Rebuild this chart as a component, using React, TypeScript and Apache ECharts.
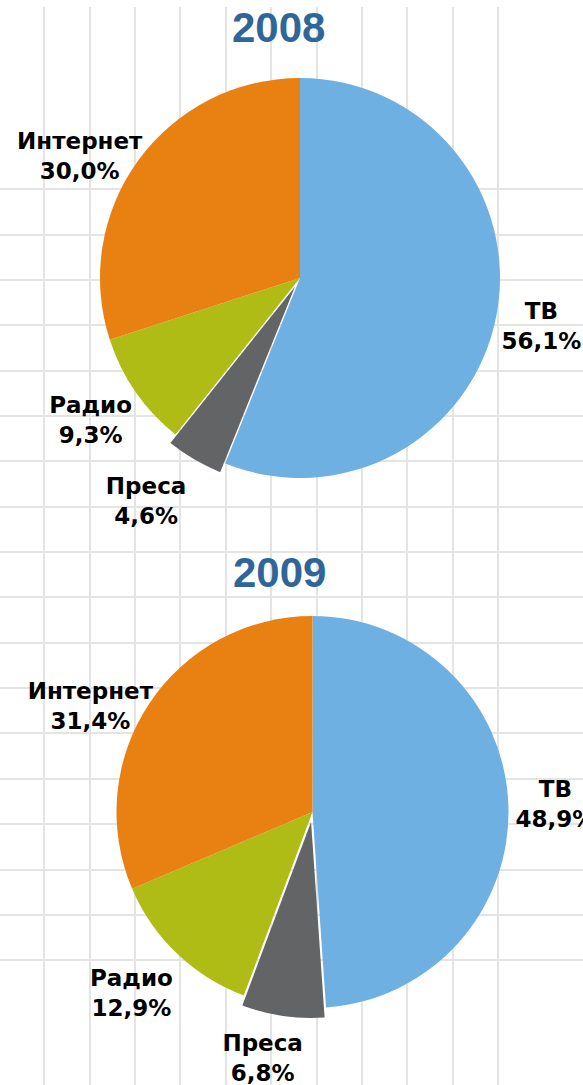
import React, { useEffect, useRef } from "react";
import * as echarts from "echarts";

// ---- data ----
const years = ["2008", "2009"];
const categories = ["ТВ", "Преса", "Радио", "Интернет"];
const share2008 = [56.1, 4.6, 9.3, 30.0];
const share2009 = [48.9, 6.8, 12.9, 31.4];
const explodedCategory = "Преса";

// background sheet grid (cell counts)
const sheetColumns = 10;
const sheetRows = 17;

// ---- style / layout ----
const sliceColors = ["#6FB0E3", "#636466", "#B0BC16", "#E88112"];
const titleColor = "#2F6699";
const gridLineColor = "#E4E4E4";
const pieLayouts = [
  { center: [300, 278], radius: 200, titleLeft: 232, titleTop: 6 },
  { center: [312.5, 812], radius: 196, titleLeft: 233, titleTop: 551 },
];
const labelGap = 50;
const explodeOffset = 10;
// small per-label nudges (pixels) to match the hand-placed labels
const labelNudges = [
  [[-4, 0], [-23, -2], [-4, 0], [-18, 25]],
  [[-3, 0], [-13, -7], [-11, 3], [-17, 30]],
];

const fmt = (v: number) => v.toFixed(1).replace(".", ",") + "%";

export default function App() {
  const ref = useRef<HTMLDivElement>(null);
  useEffect(() => {
    if (!ref.current) return;
    const chart = echarts.init(ref.current, undefined, { renderer: "svg" });
    const shares = [share2008, share2009];

    const series: any[] = [];
    shares.forEach((vals, si) => {
      const lay = pieLayouts[si];
      const total = vals.reduce((a, b) => a + b, 0);
      // visible pie
      series.push({
        type: "pie",
        name: years[si],
        center: lay.center,
        radius: lay.radius,
        startAngle: 90,
        clockwise: true,
        selectedMode: "multiple",
        selectedOffset: explodeOffset,
        silent: true,
        z: 5,
        itemStyle: { borderWidth: 0 },
        label: { show: false },
        labelLine: { show: false },
        data: categories.map((c, i) => ({
          name: c,
          value: vals[i],
          selected: c === explodedCategory,
          itemStyle: { color: sliceColors[i] },
        })),
      });
      // label carrier (same data, transparent sectors)
      series.push({
        type: "pie",
        name: years[si] + " labels",
        center: lay.center,
        radius: lay.radius,
        startAngle: 90,
        clockwise: true,
        silent: true,
        avoidLabelOverlap: false,
        z: 6,
        itemStyle: { color: "rgba(0,0,0,0)", borderWidth: 0 },
        label: {
          show: true,
          position: "outside",
          formatter: (p: any) => `${p.name}\n${fmt(p.value)}`,
          fontFamily: "DejaVu Sans",
          fontWeight: "bold",
          fontSize: 23,
          lineHeight: 30,
          color: "#000",
        },
        labelLine: { show: false },
        labelLayout: (p: any) => {
          let cum = 0;
          for (let j = 0; j < p.dataIndex; j++) cum += vals[j];
          const mid = ((cum + vals[p.dataIndex] / 2) / total) * Math.PI * 2;
          const off = categories[p.dataIndex] === explodedCategory ? explodeOffset : 0;
          const d = lay.radius + labelGap + off;
          const n = labelNudges[si][p.dataIndex];
          return {
            x: lay.center[0] + d * Math.sin(mid) + n[0],
            y: lay.center[1] - d * Math.cos(mid) + n[1],
            align: "center",
            verticalAlign: "middle",
          };
        },
        data: categories.map((c, i) => ({ name: c, value: vals[i] })),
      });
    });

    const hiddenAxis = {
      show: true,
      axisLine: { show: false },
      axisTick: { show: false },
      axisLabel: { show: false },
    };

    chart.setOption({
      animation: false,
      backgroundColor: "#ffffff",
      title: years.map((y, i) => ({
        text: y,
        left: pieLayouts[i].titleLeft,
        top: pieLayouts[i].titleTop,
        padding: 0,
        textStyle: {
          fontFamily: "Liberation Sans",
          fontWeight: "bold",
          fontSize: 42,
          lineHeight: 42,
          color: titleColor,
        },
      })),
      grid: [
        { left: 44, top: 7, width: 454, height: 1078 },
        { left: 0, top: 189, width: 583, height: 771 },
      ],
      xAxis: [
        {
          ...hiddenAxis,
          gridIndex: 0,
          type: "value",
          min: 0,
          max: sheetColumns,
          interval: 1,
          splitLine: { show: true, lineStyle: { color: gridLineColor, width: 2 } },
        },
        {
          ...hiddenAxis,
          gridIndex: 1,
          type: "value",
          min: 0,
          max: 1,
          splitLine: { show: false },
        },
      ],
      yAxis: [
        {
          ...hiddenAxis,
          gridIndex: 0,
          type: "value",
          min: 0,
          max: 1,
          splitLine: { show: false },
        },
        {
          ...hiddenAxis,
          gridIndex: 1,
          type: "value",
          min: 0,
          max: sheetRows,
          interval: 1,
          splitLine: { show: true, lineStyle: { color: gridLineColor, width: 2 } },
        },
      ],
      series,
    });
    return () => chart.dispose();
  }, []);

  return (
    <div
      ref={ref}
      style={{ position: "absolute", left: 0, top: 0, width: 583, height: 1085, background: "#fff" }}
    />
  );
}
